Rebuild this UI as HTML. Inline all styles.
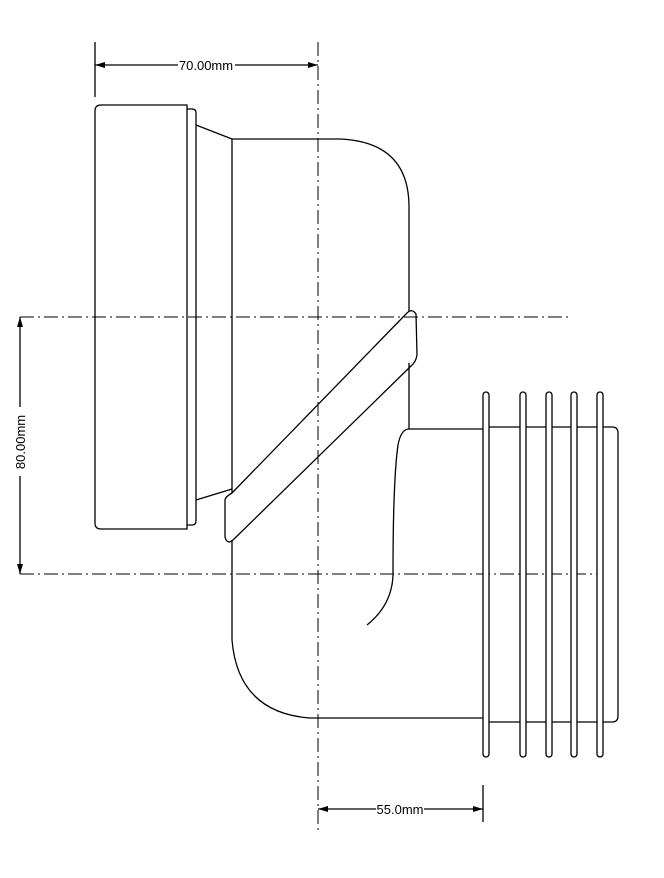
<!DOCTYPE html>
<html><head><meta charset="utf-8"><style>
html,body{margin:0;padding:0;background:#fff;}
svg{display:block;}
text{font-family:"Liberation Sans",Arial,sans-serif;font-size:13px;fill:#000;}
</style></head><body>
<svg width="664" height="878" viewBox="0 0 664 878" xmlns="http://www.w3.org/2000/svg">
<g fill="none" stroke="#000" stroke-width="1.3">
  <g stroke-dasharray="14,4,2,4" stroke-width="1">
    <line x1="318" y1="42" x2="318" y2="830"/>
    <line x1="20" y1="317" x2="572" y2="317"/>
    <line x1="20" y1="574" x2="603" y2="574"/>
  </g>
  <line x1="95" y1="42" x2="95" y2="97"/>
  <line x1="95" y1="65" x2="178" y2="65"/>
  <line x1="235" y1="65" x2="318" y2="65"/>
  <line x1="20" y1="317" x2="20" y2="407"/>
  <line x1="20" y1="476" x2="20" y2="574"/>
  <line x1="483" y1="785" x2="483" y2="822"/>
  <line x1="318" y1="809" x2="376" y2="809"/>
  <line x1="424" y1="809" x2="483" y2="809"/>

  <path d="M187 105 H101 Q95 105 95 111 V523 Q95 529 101 529 H187 Z"/>
  <path d="M187 109 H192 Q196 109 196 113 V521 Q196 525 192 525 H187"/>
  <line x1="196" y1="125" x2="232" y2="139"/>
  <line x1="196" y1="500" x2="232" y2="489"/>

  <path d="M232 139 H340 Q409 142 409 207 V312"/>
  <line x1="232" y1="139" x2="232" y2="493"/>
  <line x1="409" y1="363" x2="409" y2="429"/>
  <path d="M232 540 V640 Q238 712 309 718 H483"/>
  <path d="M232 493 L407 313 Q412 308 416 314 L417 355 Q416 362 411 366 L233 540 Q227 545 225 537 V500 Q225 497 232 493"/>
  <path d="M409 429 Q401 429 398 445 Q393 480 393 575 Q392 605 367 625"/>
  <line x1="409" y1="429" x2="483" y2="429"/>
  <path d="M489 427 H612 Q618 427 618 433 V716 Q618 722 612 722 H489"/>
  <g fill="#fff">
    <rect x="483" y="392" width="6" height="365" rx="3"/>
    <rect x="520" y="392" width="6" height="365" rx="3"/>
    <rect x="546" y="392" width="6" height="365" rx="3"/>
    <rect x="571" y="392" width="6" height="365" rx="3"/>
    <rect x="597" y="392" width="6" height="365" rx="3"/>
  </g>
</g>
<g fill="#000">
  <polygon points="95,65 105,62 105,68"/>
  <polygon points="318,65 308,62 308,68"/>
  <polygon points="20,317 17,327 23,327"/>
  <polygon points="20,574 17,564 23,564"/>
  <polygon points="318,809 328,806 328,812"/>
  <polygon points="483,809 473,806 473,812"/>
</g>
<text x="206" y="70" text-anchor="middle">70.00mm</text>
<text x="400" y="814" text-anchor="middle">55.0mm</text>
<text transform="translate(25,442) rotate(-90)" text-anchor="middle">80.00mm</text>
</svg>
</body></html>
